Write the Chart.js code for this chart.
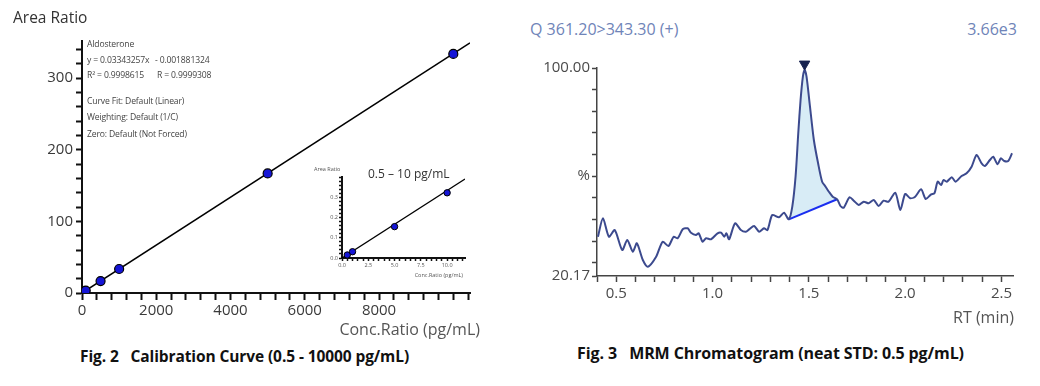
<!DOCTYPE html>
<html lang="en">
<head>
<meta charset="UTF-8">
<title>Aldosterone calibration curve and MRM chromatogram</title>
<script src="https://cdn.jsdelivr.net/npm/chart.js"></script>
<style>
  body { margin: 0; width: 1040px; height: 386px; position: relative; overflow: hidden; background: #fff; font-family: "Open Sans", sans-serif; }
  canvas { position: absolute; }
  .txt { position: absolute; white-space: nowrap; line-height: 1; color: #333; }
  .note { font-size: 8.6px; color: #444; letter-spacing: -0.15px; }
  .cap { font-weight: bold; font-size: 15.5px; color: #111; letter-spacing: -0.1px; }
  .blue { color: #6f84b8; font-size: 16px; }
</style>
</head>
<body>
  <!-- Fig. 2 -->
  <canvas id="calChart" width="500" height="320" style="left:0;top:0;width:500px;height:320px"></canvas>
  <canvas id="insetChart" width="180" height="125" style="left:300px;top:160px;width:180px;height:125px"></canvas>
  <div class="txt" style="left:13px;top:10px;font-size:15.5px">Area Ratio</div>
  <div class="txt note" style="left:87px;top:40px">Aldosterone</div>
  <div class="txt note" style="left:87px;top:56px">y = 0.03343257x</div>
  <div class="txt note" style="left:155px;top:56px">- 0.001881324</div>
  <div class="txt note" style="left:87px;top:71px">R² = 0.9998615</div>
  <div class="txt note" style="left:157px;top:71px">R = 0.9999308</div>
  <div class="txt note" style="left:87px;top:97px">Curve Fit: Default (Linear)</div>
  <div class="txt note" style="left:87px;top:113px">Weighting: Default (1/C)</div>
  <div class="txt note" style="left:87px;top:130px">Zero: Default (Not Forced)</div>
  <div class="txt" style="left:314px;top:167px;font-size:5.5px;color:#555">Area Ratio</div>
  <div class="txt" style="left:368px;top:168px;font-size:12px">0.5 – 10 pg/mL</div>
  <div class="txt" style="right:577px;top:273px;font-size:5.5px;color:#555">Conc.Ratio (pg/mL)</div>
  <div class="txt" style="right:560px;top:321px;font-size:16px;color:#555">Conc.Ratio (pg/mL)</div>
  <div class="txt cap" style="left:80px;top:349px">Fig. 2&nbsp;&nbsp;&nbsp;Calibration Curve (0.5 - 10000 pg/mL)</div>

  <!-- Fig. 3 -->
  <canvas id="chromChart" width="510" height="270" style="left:520px;top:40px;width:510px;height:270px"></canvas>
  <div class="txt blue" style="left:530px;top:21px">Q 361.20&gt;343.30 (+)</div>
  <div class="txt blue" style="right:23px;top:21px">3.66e3</div>
  <div class="txt" style="right:26px;top:309px;font-size:16px;color:#555">RT (min)</div>
  <div class="txt cap" style="left:577px;top:345px;font-size:16px">Fig. 3&nbsp;&nbsp;&nbsp;MRM Chromatogram (neat STD: 0.5 pg/mL)</div>

<script>
// ---- Fig. 2 calibration data ----
const concLevels = [0.5, 1, 5, 10, 50, 100, 500, 1000, 5000, 10000];
const areaRatios = [0.0148, 0.031, 0.155, 0.322, 1.66, 3.33, 16.6, 33.5, 167, 334];
// regression line end points
const fitX = [0, 10450];
const fitY = [0, 349.3];
const insetFitX = [0, 11.7];
const insetFitY = [0, 0.39];
// labelled ticks
const calTickX = [0, 2000, 4000, 6000, 8000];
const calTickY = [0, 100, 200, 300];
const insetTickX = [0, 2.5, 5, 7.5, 10];
const insetTickY = [0, 0.1, 0.2, 0.3];
const insetLevels = 4; // first four standards shown in the inset

// ---- Fig. 3 chromatogram data ----
const rtMin = [0.405,0.431,0.462,0.492,0.531,0.557,0.586,0.607,0.638,0.664,
  0.707,0.741,0.771,0.798,0.819,0.845,0.871,0.888,0.914,0.928,
  0.948,0.966,0.992,1.026,1.044,1.061,1.072,1.086,1.117,1.147,
  1.173,1.190,1.216,1.242,1.267,1.285,1.310,1.345,1.371,1.396,
  1.414,1.431,1.445,1.457,1.469,1.478,1.488,1.504,1.526,1.548,
  1.569,1.587,1.604,1.624,1.647,1.664,1.681,1.711,1.733,1.759,
  1.785,1.811,1.837,1.862,1.888,1.914,1.949,1.975,2.000,2.026,
  2.052,2.083,2.107,2.135,2.152,2.169,2.187,2.199,2.216,2.242,
  2.262,2.293,2.319,2.345,2.371,2.397,2.414,2.440,2.457,2.480,
  2.497,2.514,2.535,2.555];
const intensity = [35.25,42.32,35.25,37.82,30.15,33.99,29.50,32.72,26.31,23.74,
  27.58,33.33,31.68,35.25,34.64,38.09,38.48,36.79,35.90,36.56,
  33.33,34.64,34.26,36.56,36.79,35.25,36.56,34.26,40.40,37.82,
  37.17,38.09,39.36,37.17,38.48,37.82,43.58,42.70,44.46,41.93,
  46.77,58.28,74.94,87.72,96.66,99.30,96.66,86.45,72.37,63.42,
  56.36,54.44,52.52,50.60,49.61,47.04,46.38,50.38,49.07,47.42,
  48.69,48.07,49.34,47.04,49.07,48.69,52.14,45.50,51.64,49.99,
  50.60,53.45,49.72,51.53,51.91,56.36,55.10,57.01,56.36,58.05,
  56.36,58.55,59.59,62.12,66.61,63.42,62.39,64.69,65.96,63.04,
  65.34,64.31,64.31,67.26];
const baseRT = [1.396, 1.647];
const baseInt = [41.93, 49.61];
const apexRT = [1.478];
const apexMark = [101.5];
const chromTickY = [100, 91.7, 83.4, 75.1, 66.8, 58.5, 50.2, 41.9, 33.6, 25.3, 20.17];
const chromTickLabels = ['100.00', '', '', '', '', '%', '', '', '', '', '20.17'];
const chromTickX = [0.5, 1.0, 1.5, 2.0, 2.5];

Chart.defaults.font.family = '"Open Sans", sans-serif';
Chart.defaults.animation = false;

const pts = (xs, ys) => xs.map((x, i) => ({ x: x, y: ys[i] }));
const near = (arr, v) => arr.some(a => Math.abs(a - v) < 1e-6);

// minor tick marks every `step` from `from` up to `to`
function tickRun(from, to, step) {
  return s => {
    const out = [];
    for (let k = 0; from + k * step <= to + 1e-9; k++) {
      out.push({ value: Math.round((from + k * step) * 1e6) / 1e6 });
    }
    s.ticks = out;
  };
}

// shared axis look: outward ticks, no grid
function axis(o) {
  return {
    type: 'linear',
    min: o.min, max: o.max,
    afterFit: o.fit,
    afterBuildTicks: o.build,
    border: { color: o.color, width: o.bw },
    grid: { drawOnChartArea: false, tickLength: o.tl, tickColor: o.color, tickWidth: o.tw },
    ticks: {
      autoSkip: false, maxRotation: 0,
      padding: o.pad, color: o.labelColor, font: { size: o.fs },
      callback: o.label
    }
  };
}

const baseOpts = {
  responsive: false,
  events: [],
  plugins: { legend: { display: false }, tooltip: { enabled: false } }
};

// main calibration curve
new Chart(document.getElementById('calChart'), {
  type: 'line',
  data: {
    datasets: [
      { data: pts(concLevels, areaRatios), showLine: false, pointRadius: 4.5,
        pointBackgroundColor: '#1515d6', pointBorderColor: '#000', pointBorderWidth: 1.2, order: 1 },
      { data: pts(fitX, fitY), borderColor: '#000', borderWidth: 1.5, pointRadius: 0, order: 2 }
    ]
  },
  options: Object.assign({}, baseOpts, {
    layout: { padding: { top: 41, right: 30, left: 0, bottom: 0 } },
    scales: {
      x: axis({ min: 0, max: 10450, build: tickRun(0, 10400, 400), fit: s => { s.height = 27; }, color: '#111', bw: 2, tl: 7, tw: 2,
        pad: 2, labelColor: '#3a3a3a', fs: 15, label: v => near(calTickX, v) ? String(v) : '' }),
      y: axis({ min: 0, max: 352, build: tickRun(0, 340, 20), fit: s => { s.width = 82; }, color: '#111', bw: 2, tl: 6, tw: 2,
        pad: 3, labelColor: '#3a3a3a', fs: 15, label: v => near(calTickY, v) ? String(v) : '' })
    }
  })
});

// inset 0.5 - 10 pg/mL
new Chart(document.getElementById('insetChart'), {
  type: 'line',
  data: {
    datasets: [
      { data: pts(concLevels.slice(0, insetLevels), areaRatios.slice(0, insetLevels)), showLine: false, pointRadius: 3.2,
        pointBackgroundColor: '#1515d6', pointBorderColor: '#000', pointBorderWidth: 1, order: 1 },
      { data: pts(insetFitX, insetFitY), borderColor: '#000', borderWidth: 1.3, pointRadius: 0, order: 2 }
    ]
  },
  options: Object.assign({}, baseOpts, {
    layout: { padding: { top: 17, right: 15, left: 0, bottom: 0 } },
    scales: {
      x: axis({ min: 0, max: 11.7, build: tickRun(0, 11.5, 0.5), fit: s => { s.height = 27; }, color: '#111', bw: 2, tl: 3, tw: 1.5,
        pad: 1, labelColor: '#555', fs: 5.5, label: v => near(insetTickX, v) ? v.toFixed(1) : '' }),
      y: axis({ min: 0, max: 0.4, build: tickRun(0, 0.4, 0.02), fit: s => { s.width = 42; }, color: '#111', bw: 2, tl: 3, tw: 1.5,
        pad: 1, labelColor: '#555', fs: 5.5, label: v => near(insetTickY, v) ? v.toFixed(1) : '' })
    }
  })
});

// MRM chromatogram
const peakIdx = rtMin.map((r, i) => i).filter(i => rtMin[i] >= baseRT[0] - 1e-9 && rtMin[i] <= baseRT[1] + 1e-9);
new Chart(document.getElementById('chromChart'), {
  type: 'line',
  data: {
    datasets: [
      { data: pts(rtMin, intensity), borderColor: '#3c4a8e', borderWidth: 2, pointRadius: 0, tension: 0.25, order: 1 },
      { data: pts(baseRT, baseInt), borderColor: '#1a2ef0', borderWidth: 2, pointRadius: 0, order: 2 },
      { data: peakIdx.map(i => ({ x: rtMin[i], y: intensity[i] })), borderWidth: 0, pointRadius: 0, tension: 0.25,
        fill: 1, backgroundColor: '#d8ecf6', order: 3 },
      { data: pts(apexRT, apexMark), showLine: false, pointStyle: 'triangle', rotation: 180, pointRadius: 6,
        pointBackgroundColor: '#17224f', pointBorderColor: '#17224f', clip: false, order: 0 }
    ]
  },
  options: Object.assign({}, baseOpts, {
    layout: { padding: { top: 28, right: 17, left: 0, bottom: 0 } },
    scales: {
      x: axis({ min: 0.4, max: 2.56, build: tickRun(0.4, 2.5, 0.1), fit: s => { s.height = 34; }, color: '#444', bw: 1.5, tl: 6, tw: 1.5,
        pad: 3, labelColor: '#4a4a4a', fs: 15, label: v => near(chromTickX, v) ? v.toFixed(1) : '' }),
      y: axis({ min: 20.17, max: 100, fit: s => { s.width = 77; }, color: '#444', bw: 1.5, tl: 5, tw: 1.5,
        build: s => { s.ticks = chromTickY.map(v => ({ value: v })); },
        pad: 2, labelColor: '#4a4a4a', fs: 15, label: (v, i) => chromTickLabels[i] })
    }
  })
});
</script>
</body>
</html>
